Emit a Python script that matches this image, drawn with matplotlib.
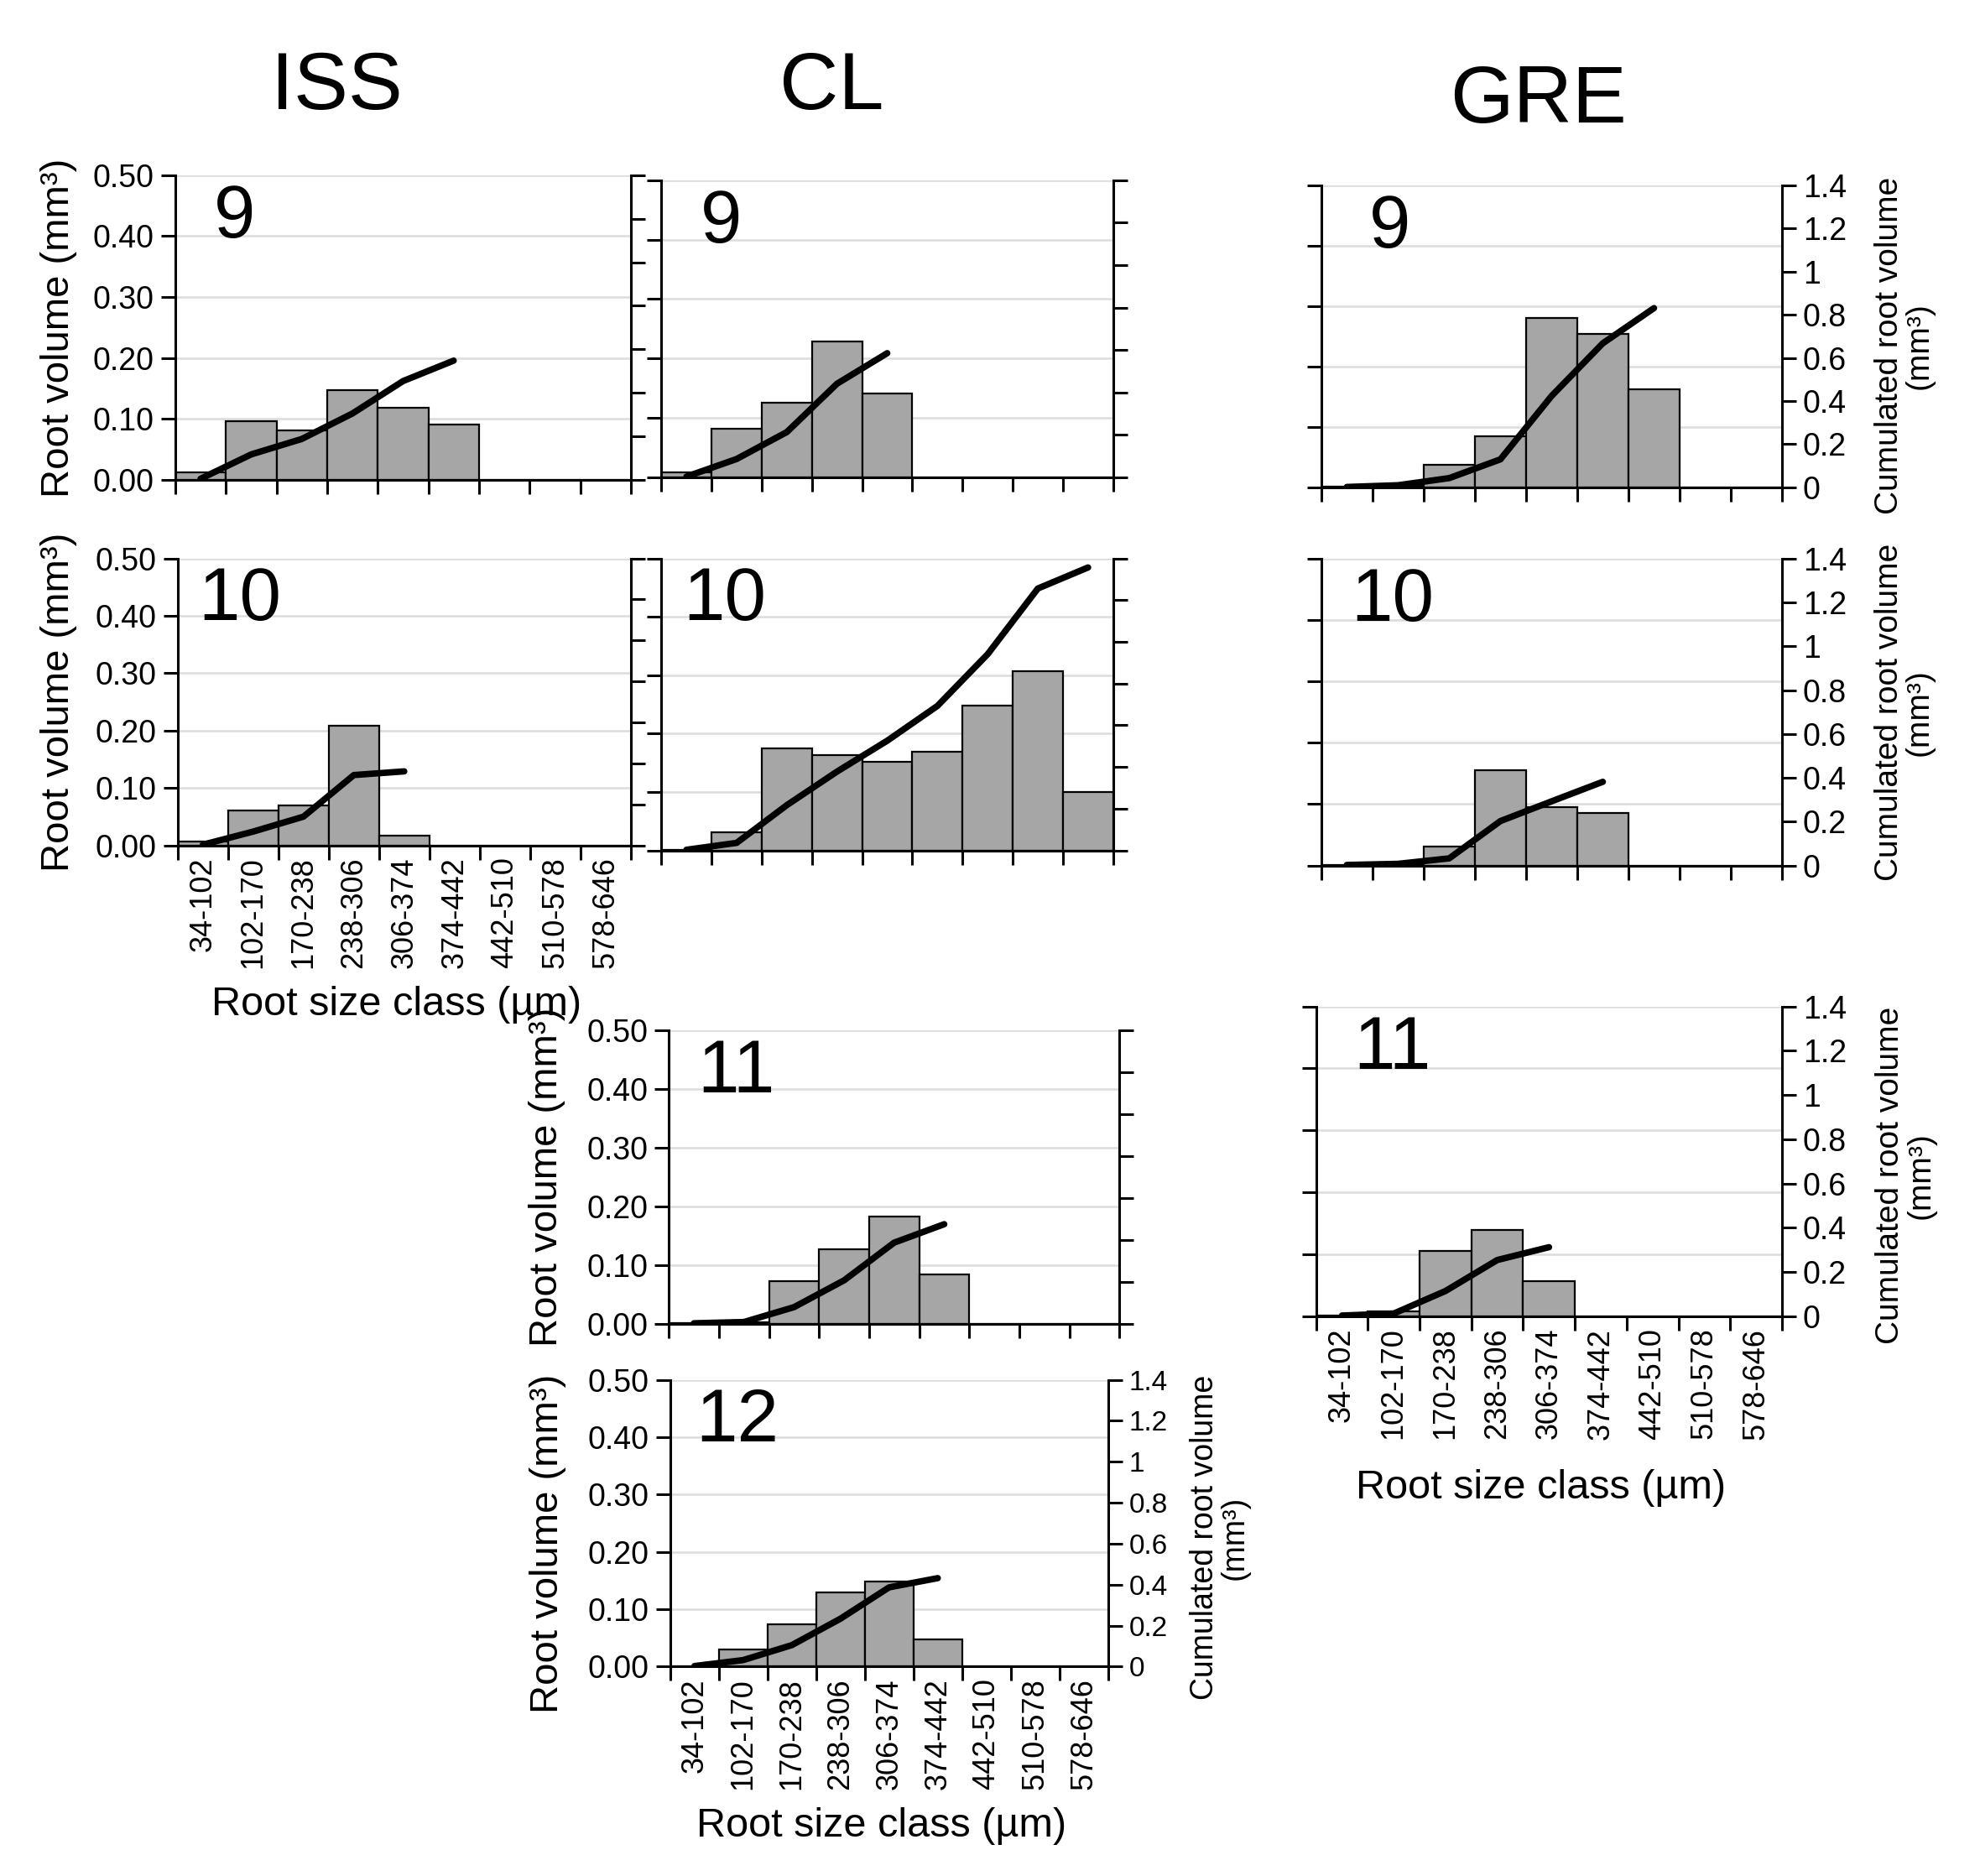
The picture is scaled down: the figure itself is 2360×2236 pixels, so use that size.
import matplotlib
matplotlib.use('Agg')
import matplotlib.pyplot as plt
import numpy as np

plt.rcParams['font.family'] = ['Liberation Sans', 'DejaVu Sans']

# --- size classes (um) ---
classes = ['34-102', '102-170', '170-238', '238-306', '306-374',
           '374-442', '442-510', '510-578', '578-646']

# --- root volume per class (mm3) ---
iss9_bars = [0.013, 0.097, 0.081, 0.147, 0.119, 0.091, 0, 0, 0]
iss10_bars = [0.006, 0.061, 0.069, 0.208, 0.017, 0, 0, 0, 0]
cl9_bars = [0.008, 0.081, 0.126, 0.228, 0.141, 0, 0, 0, 0]
cl10_bars = [0.001, 0.031, 0.175, 0.163, 0.152, 0.169, 0.248, 0.307, 0.100]
cl11_bars = [0.001, 0.003, 0.073, 0.127, 0.183, 0.085, 0, 0, 0]
cl12_bars = [0.0, 0.030, 0.074, 0.129, 0.149, 0.047, 0, 0, 0]
gre9_bars = [0.001, 0.002, 0.037, 0.085, 0.281, 0.254, 0.162, 0, 0]
gre10_bars = [0.001, 0.002, 0.031, 0.155, 0.095, 0.086, 0, 0, 0]
gre11_bars = [0.001, 0.008, 0.106, 0.139, 0.056, 0, 0, 0, 0]

# --- cumulated root volume (mm3), right axis ---
iss9_cum = [0.005, 0.117, 0.188, 0.305, 0.454, 0.548]
iss10_cum = [0.003, 0.067, 0.140, 0.343, 0.361]
cl9_cum = [0.003, 0.086, 0.213, 0.441, 0.585]
cl10_cum = [0.003, 0.036, 0.217, 0.378, 0.526, 0.693, 0.941, 1.256, 1.357]
cl11_cum = [0.003, 0.009, 0.080, 0.208, 0.388, 0.476]
cl12_cum = [0.003, 0.032, 0.105, 0.234, 0.387, 0.432]
gre9_cum = [0.002, 0.010, 0.043, 0.130, 0.424, 0.668, 0.831]
gre10_cum = [0.003, 0.008, 0.033, 0.203, 0.293, 0.382]
gre11_cum = [0.003, 0.012, 0.114, 0.254, 0.312]

left_ticks = [0.0, 0.1, 0.2, 0.3, 0.4, 0.5]
right_ticks = [0, 0.2, 0.4, 0.6, 0.8, 1, 1.2, 1.4]
right_ticklabels = ['0', '0.2', '0.4', '0.6', '0.8', '1', '1.2', '1.4']

BAR_COLOR = '#A6A6A6'
GRID_COLOR = '#DCDCDC'
LW = 2.2

fig = plt.figure(figsize=(23.6, 22.36), dpi=100)

# column headers
fig.text(0.170, 0.953, 'ISS', fontsize=70, ha='center', va='center')
fig.text(0.420, 0.953, 'CL', fontsize=70, ha='center', va='center')
fig.text(0.777, 0.946, 'GRE', fontsize=70, ha='center', va='center')


def draw_panel(rect, bars, cum, num, num_x, left_lab=False, right_lab=False,
               x_lab=False, small_right=False, ylab_x=-0.26, ylab_y=0.5,
               rlab_x=1.265, rlab_y=0.5):
    ax = fig.add_axes(rect)
    x = np.arange(len(classes))
    ax.bar(x, bars, width=1.0, color=BAR_COLOR, edgecolor='black',
           linewidth=1.6, zorder=2)
    ax.set_xlim(-0.5, len(classes) - 0.5)
    ax.set_ylim(0, 0.5)
    ax.set_yticks(left_ticks)
    ax.yaxis.grid(True, color=GRID_COLOR, linewidth=1.8, zorder=0)
    ax.set_axisbelow(True)

    # ticks at the class boundaries, labels under the class centres
    ax.set_xticks(np.arange(len(classes) + 1) - 0.5)
    ax.set_xticklabels([])
    ax.set_xticks(x, minor=True)
    if x_lab:
        ax.set_xticklabels(classes, minor=True, rotation=90, fontsize=26)
    ax.tick_params(axis='x', which='minor', length=0, pad=10)
    ax.tick_params(axis='x', which='major', length=12, width=LW,
                   direction='out')
    ax.tick_params(axis='y', length=12, width=LW, direction='out',
                   labelsize=27, pad=6)
    if left_lab:
        ax.set_yticklabels(['%.2f' % t for t in left_ticks])
        ax.text(ylab_x, ylab_y, 'Root volume (mm³)', rotation=90,
                fontsize=34, ha='center', va='center', transform=ax.transAxes)
    else:
        ax.set_yticklabels([])

    for s in ['top', 'right']:
        ax.spines[s].set_visible(False)
    for s in ['left', 'bottom']:
        ax.spines[s].set_linewidth(LW)

    ax2 = ax.twinx()
    ax2.plot(x[:len(cum)], cum, color='black', linewidth=5.5,
             solid_capstyle='round', solid_joinstyle='round', zorder=3)
    ax2.set_ylim(0, 1.4)
    ax2.set_yticks(right_ticks)
    rsize = 24 if small_right else 27
    ax2.tick_params(axis='y', length=12, width=LW, direction='out',
                    labelsize=rsize, pad=6)
    for s in ['top', 'left', 'bottom']:
        ax2.spines[s].set_visible(False)
    ax2.spines['right'].set_linewidth(LW)
    if right_lab:
        ax2.set_yticklabels(right_ticklabels)
        ax2.text(rlab_x, rlab_y, 'Cumulated root volume\n(mm³)', rotation=90,
                 fontsize=27 if small_right else 28, ha='center',
                 va='center', linespacing=1.0, transform=ax2.transAxes)
    else:
        ax2.set_yticklabels([])

    if x_lab:
        ax.text(0.483, -0.555, 'Root size class (µm)', fontsize=35,
                ha='center', va='center', transform=ax.transAxes)

    ax2.text(num_x, 0.975, num, fontsize=64, ha='center', va='top',
             transform=ax2.transAxes)
    return ax


# ISS column
draw_panel([0.0885, 0.7442, 0.2301, 0.1624], iss9_bars, iss9_cum, '9', 0.13,
           left_lab=True, ylab_x=-0.255)
draw_panel([0.0897, 0.5494, 0.2289, 0.1529], iss10_bars, iss10_cum, '10', 0.137,
           left_lab=True, x_lab=True, ylab_x=-0.262)

# CL column
draw_panel([0.3340, 0.7456, 0.2282, 0.1583], cl9_bars, cl9_cum, '9', 0.132)
draw_panel([0.3340, 0.5467, 0.2282, 0.1556], cl10_bars, cl10_cum, '10', 0.14)
draw_panel([0.3378, 0.2943, 0.2276, 0.1563], cl11_bars, cl11_cum, '11', 0.149,
           left_lab=True, ylab_x=-0.27)
draw_panel([0.3385, 0.1116, 0.2211, 0.1529], cl12_bars, cl12_cum, '12', 0.154,
           left_lab=True, right_lab=True, x_lab=True, small_right=True,
           ylab_x=-0.28, ylab_y=0.43, rlab_x=1.255, rlab_y=0.45)

# GRE column
draw_panel([0.6673, 0.7402, 0.2327, 0.1610], gre9_bars, gre9_cum, '9', 0.149,
           right_lab=True, rlab_y=0.47)
draw_panel([0.6673, 0.5386, 0.2327, 0.1637], gre10_bars, gre10_cum, '10', 0.154,
           right_lab=True)
draw_panel([0.6647, 0.2984, 0.2353, 0.1651], gre11_bars, gre11_cum, '11', 0.163,
           right_lab=True, x_lab=True, rlab_y=0.455)

fig.savefig('out.png', dpi=100)
